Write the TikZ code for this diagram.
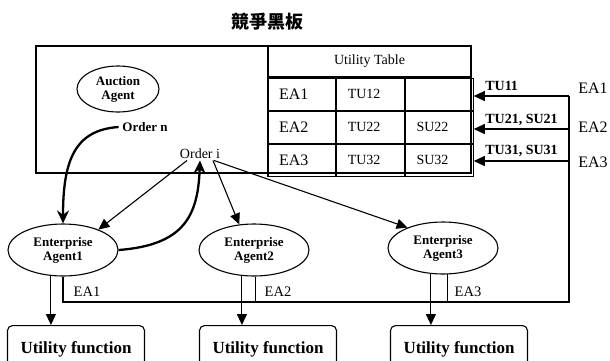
\documentclass[tikz,border=0pt]{standalone}
\usepackage{fontspec}
\setmainfont{Liberation Serif}
\newfontfamily\cjk{Noto Sans CJK TC}
\usetikzlibrary{positioning}
\usetikzlibrary{arrows.meta}
\usetikzlibrary{shapes.geometric}

\begin{document}
\begin{tikzpicture}[x=1pt,y=1pt,line width=1.1pt,
                    >={Triangle[length=11pt,width=10pt]},
                    agent/.style={ellipse,draw,align=center,inner sep=0pt,minimum width=110pt,minimum height=52pt,font=\fontsize{13}{14}\selectfont\bfseries},
                    cell/.style={draw,minimum height=32pt,text width=45.67pt,inner xsep=11pt,inner ysep=0pt,align=left,font=\fontsize{14}{16}\selectfont},
                    eacell/.style={font=\fontsize{16}{18}\selectfont},
                    ufunc/.style={draw,rounded corners=5pt,minimum width=137pt,minimum height=48pt,font=\fontsize{17}{19}\selectfont\bfseries},
                    tulab/.style={inner sep=1pt,font=\fontsize{14}{16}\selectfont\bfseries},
                    bigarrow/.style={line width=2.3pt,-{Stealth[length=13pt,width=12pt]}}]
      \useasboundingbox (0,0) rectangle (610,-360);
      \clip (0,0) rectangle (610,-360);

      \node[font=\cjk\fontsize{18}{20}\selectfont\bfseries] (title) at (267,-22) {競爭黑板};

      % blackboard and utility table
      \node[draw,minimum width=435pt,minimum height=127pt,inner sep=0pt] (board) at (253.5,-109.5) {};
      \node[draw,minimum width=203pt,minimum height=31pt,inner sep=0pt,font=\fontsize{14}{16}\selectfont] (thead) at (369.5,-61.5) {Utility Table};
      \node[cell,eacell] (r1c1) [below right=0pt of thead.south west] {EA1};
      \node[cell] (r1c2) [right=0pt of r1c1] {TU12};
      \node[cell] (r1c3) [right=0pt of r1c2] {};
      \node[cell,eacell] (r2c1) [below=0pt of r1c1] {EA2};
      \node[cell] (r2c2) [right=0pt of r2c1] {TU22};
      \node[cell] (r2c3) [right=0pt of r2c2] {SU22};
      \node[cell,eacell] (r3c1) [below=0pt of r2c1] {EA3};
      \node[cell] (r3c2) [right=0pt of r3c1] {TU32};
      \node[cell] (r3c3) [right=0pt of r3c2] {SU32};

      \node[agent,minimum width=82pt,minimum height=46pt] (auction) at (118,-89) {Auction\\Agent};
      \node[font=\fontsize{13}{15}\selectfont\bfseries] (ordern) at (145,-127) {Order n};
      \node[inner sep=1pt,font=\fontsize{14}{16}\selectfont] (orderi) at (200,-154) {Order i};

      % enterprise agents
      \node[agent] (agent1) at (63,-250) {Enterprise\\Agent1};
      \node[agent] (agent2) at (254,-250) {Enterprise\\Agent2};
      \node[agent] (agent3) at (443,-248) {Enterprise\\Agent3};

      \node[ufunc,anchor=north] (func1) at (76,-325) {Utility function};
      \node[ufunc,anchor=north] (func2) at (268,-325) {Utility function};
      \node[ufunc,anchor=north] (func3) at (459,-325) {Utility function};

      \coordinate (bus1) at (569,-96);
      \coordinate (bus2) at (569,-129);
      \coordinate (bus3) at (569,-161);
      \coordinate (busend) at (569,-302);

      \node[font=\fontsize{16}{18}\selectfont] (side1) at (593,-88) {EA1};
      \node[font=\fontsize{16}{18}\selectfont] (side2) at (593,-127) {EA2};
      \node[font=\fontsize{16}{18}\selectfont] (side3) at (593,-162) {EA3};

      \draw[bigarrow] (ordern.west) .. controls (75,-130) and (63,-160) .. (agent1.north);
      \draw[bigarrow] (agent1.east) .. controls (185,-245) and (198,-215) .. (orderi.south);

      \draw[->] ([xshift=-13pt]orderi.south) -- (agent1.30);
      \draw[->] ([xshift=13pt]orderi.south) -- (agent2.120);
      \draw[->] ([xshift=14pt]orderi.south) -- (agent3.150);

      \draw[->] (agent1.-115) -- (agent1.-115 |- func1.north);
      \draw[->] (agent2.-115) -- (agent2.-115 |- func2.north);
      \draw[->] (agent3.-115) -- (agent3.-115 |- func3.north);

      % EA bus back to the table
      \draw (agent1.south) |- (busend) -- (bus1);
      \draw (agent2.-87) -- (agent2.-87 |- busend);
      \draw (agent3.-80) -- (agent3.-80 |- busend);
      \node[font=\fontsize{14.5}{16}\selectfont] (ea1) at (87,-292) {EA1};
      \node[font=\fontsize{14.5}{16}\selectfont] (ea2) at (278,-292) {EA2};
      \node[font=\fontsize{14.5}{16}\selectfont] (ea3) at (468,-292) {EA3};

      \draw[->] (bus1) -- node[pos=1,tulab,anchor=west,xshift=10pt,yshift=10pt] {TU11} (bus1 -| r1c3.east);
      \draw[->] (bus2) -- node[pos=1,tulab,anchor=west,xshift=10pt,yshift=9pt] {TU21, SU21} (bus2 -| r2c3.east);
      \draw[->] (bus3) -- node[pos=1,tulab,anchor=west,xshift=10pt,yshift=10pt] {TU31, SU31} (bus3 -| r3c3.east);

    \end{tikzpicture}
\end{document}
